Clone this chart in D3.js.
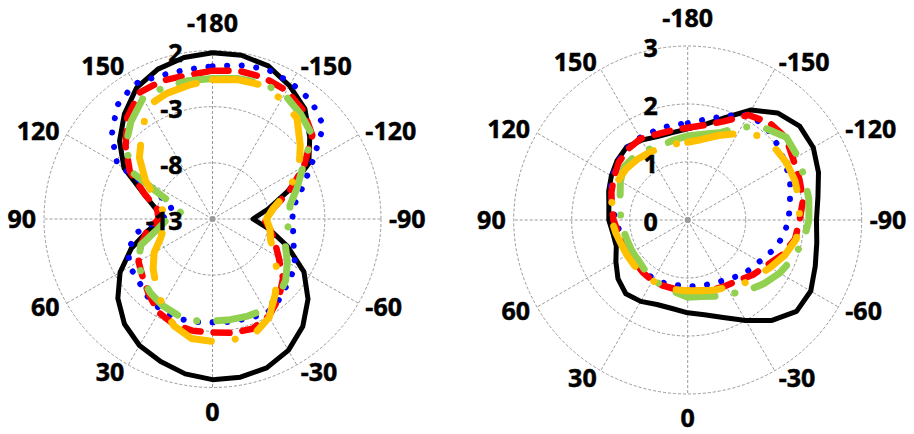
<!DOCTYPE html>
<html>
<head>
<meta charset="utf-8">
<script src="https://cdn.jsdelivr.net/npm/d3@7"></script>
<style>
  html, body { margin: 0; padding: 0; background: #fff; }
  svg text { font-family: "Open Sans", "Liberation Sans", sans-serif; font-weight: 700; font-size: 25px; fill: #000; stroke: #000; stroke-width: 0.5px; }
</style>
</head>
<body>
<svg id="chart" width="914" height="434"></svg>
<script>
// Angles in degrees, one value per 10 degrees starting at -180
const angles = d3.range(-180, 180, 10);
const angleTicks = [-180, -150, -120, -90, -60, -30, 0, 30, 60, 90, 120, 150];

// Left pattern (dB)
const leftTicks = [-13, -8, -3, 2];
const leftBlack  = [1.8, 1.8, 1.5, 0.7, -0.2, -1.7, -3.1, -5.9, -8.0, -9.4, -7.9, -5.9, -3.6, -1.9, -0.5, 0.5, 1.1, 1.3, 1.3, 1.0, 0.5, 0.0, -0.8, -2.0, -3.5, -5.3, -7.2, -8.6, -7.9, -6.5, -3.9, -2.2, -0.8, 0.5, 1.2, 1.6];
const leftBlue   = [0.6, 0.9, 1.2, 1.0, 0.7, -0.1, -2.7, -4.4, -5.6, -5.9, -5.7, -5.3, -4.5, -4.2, -3.7, -3.3, -3.6, -3.7, -3.8, -3.7, -3.6, -3.7, -4.0, -4.4, -4.5, -5.0, -6.2, -8.4, -9.4, -8.9, -3.2, -1.3, 0.2, 0.9, 0.6, 0.5];
const leftRed    = [0.2, 0.4, 0.4, 0.2, -0.4, -1.4, -3.6, -5.7, -7.5, -8.4, -7.8, -7.1, -6.2, -4.8, -3.8, -3.0, -2.6, -2.7, -2.9, -2.9, -3.0, -3.4, -4.2, -4.9, -5.4, -6.2, -7.1, -8.2, -8.0, -6.6, -4.5, -2.9, -1.2, 0.0, 0.1, 0.0];
const leftGreen  = [-0.5, -0.3, -0.1, -0.2, -0.8, -1.4, -3.7, -5.0, -6.0, -6.1, -6.3, -6.1, -5.3, -4.5, -3.9, -3.7, -3.8, -3.9, -3.9, -3.8, -3.9, -4.1, -4.4, -4.8, -5.4, -6.2, -8.1, -9.0, -10.2, -9.3, -4.8, -2.9, -1.7, -0.6, -0.5, -0.5];
const leftYellow = [-0.6, -0.4, -0.3, -0.7, -1.3, -2.8, -4.1, -5.9, -7.5, -8.2, -7.8, -7.5, -6.6, -5.5, -4.3, -2.9, -2.1, -2.1, -2.1, -2.2, -2.9, -4.1, -5.2, -6.1, -7.0, -8.1, -8.6, -8.7, -8.5, -7.5, -6.1, -4.5, -3.2, -1.4, -1.1, -0.9];

// Right pattern
const rightTicks = [0, 1, 2, 3];
const rightBlack  = [1.57, 1.67, 1.88, 2.19, 2.41, 2.52, 2.50, 2.40, 2.28, 2.22, 2.26, 2.34, 2.45, 2.45, 2.26, 2.00, 1.79, 1.66, 1.60, 1.55, 1.55, 1.62, 1.66, 1.57, 1.43, 1.31, 1.31, 1.36, 1.38, 1.45, 1.52, 1.59, 1.64, 1.59, 1.53, 1.53];
const rightBlue   = [1.67, 1.76, 1.91, 2.10, 2.10, 2.02, 1.95, 1.88, 1.79, 1.74, 1.67, 1.55, 1.43, 1.36, 1.28, 1.21, 1.17, 1.16, 1.14, 1.14, 1.16, 1.17, 1.17, 1.14, 1.14, 1.16, 1.19, 1.24, 1.33, 1.43, 1.50, 1.57, 1.62, 1.64, 1.64, 1.66];
const rightRed    = [1.59, 1.66, 1.81, 2.09, 2.19, 2.21, 2.10, 2.05, 2.02, 1.93, 1.88, 1.74, 1.57, 1.47, 1.36, 1.31, 1.28, 1.24, 1.22, 1.21, 1.21, 1.21, 1.19, 1.17, 1.17, 1.19, 1.22, 1.28, 1.33, 1.40, 1.47, 1.55, 1.60, 1.62, 1.57, 1.57];
const rightGreen  = [1.45, 1.50, 1.60, 1.86, 2.07, 2.22, 2.19, 2.14, 2.12, 2.09, 2.03, 1.93, 1.83, 1.71, 1.59, 1.47, 1.40, 1.34, 1.33, 1.26, 1.22, 1.19, 1.14, 1.10, 1.10, 1.10, 1.12, 1.16, 1.17, 1.24, 1.34, 1.43, 1.43, 1.40, 1.36, 1.40];
const rightYellow = [1.34, 1.41, 1.55, 1.72, 1.90, 1.95, 1.97, 1.97, 1.95, 1.93, 1.90, 1.78, 1.64, 1.53, 1.45, 1.34, 1.29, 1.24, 1.22, 1.22, 1.22, 1.21, 1.21, 1.21, 1.21, 1.22, 1.26, 1.31, 1.34, 1.36, 1.38, 1.38, 1.36, 1.34, 1.33, 1.33];

// Line styles for the five traces
const styles = [
  { color: "#000000", width: 5,   dash: null },
  { color: "#0000FF", width: 6,   dash: "0.1 14.5" },
  { color: "#FF0000", width: 6.5, dash: "16 13" },
  { color: "#92D050", width: 7,   dash: "40 20 0.1 20" },
  { color: "#FFC000", width: 7,   dash: "46 24 0.1 24" }
];

const svg = d3.select("#chart");

// 0 deg points down, +90 to the left, -90 to the right, -180 at the top
const angleScale = d3.scaleLinear().domain([-180, 180]).range([0, 2 * Math.PI]);

function drawPolar(cx, cy, radius, ticks, seriesList) {
  const rScale = d3.scaleLinear().domain([ticks[0], ticks[ticks.length - 1]]).range([0, radius]);
  const g = svg.append("g").attr("transform", `translate(${cx},${cy})`);
  const pt = (deg, r) => {
    const a = angleScale(deg);
    return [r * Math.sin(a), -r * Math.cos(a)];
  };

  // rings
  g.selectAll("circle.ring").data(ticks.slice(1)).join("circle")
    .attr("r", d => rScale(d))
    .attr("fill", "none").attr("stroke", "#9a9a9a").attr("stroke-width", 1)
    .attr("stroke-dasharray", "3 2");

  // spokes
  g.selectAll("line.spoke").data(angleTicks).join("line")
    .attr("x1", 0).attr("y1", 0)
    .attr("x2", d => pt(d, radius)[0]).attr("y2", d => pt(d, radius)[1])
    .attr("stroke", "#9a9a9a").attr("stroke-width", 1).attr("stroke-dasharray", "3 2");

  g.append("circle").attr("r", 3).attr("fill", "#9a9a9a");

  // traces
  const line = d3.lineRadial()
    .angle((d, i) => angleScale(angles[i]))
    .radius(d => rScale(d))
    .curve(d3.curveLinearClosed);

  seriesList.forEach((vals, i) => {
    const s = styles[i];
    g.append("path").datum(vals)
      .attr("d", line)
      .attr("fill", "none")
      .attr("stroke", s.color)
      .attr("stroke-width", s.width)
      .attr("stroke-linejoin", "round")
      .attr("stroke-linecap", "round")
      .attr("stroke-dasharray", s.dash);
  });

  // radial tick labels
  g.selectAll("text.rtick").data(ticks).join("text")
    .attr("x", -30)
    .attr("y", d => -rScale(d) + 2)
    .attr("dy", "0.36em")
    .attr("text-anchor", "end")
    .text(d => d);

  // angle labels
  g.selectAll("text.atick").data(angleTicks).join("text")
    .each(function (d) {
      const a = angleScale(d);
      const sx = Math.sin(a), sy = -Math.cos(a);
      const t = d3.select(this);
      if (Math.abs(sx) < 0.01) {
        const off = sy < 0 ? radius + 28 : radius + 24;
        t.attr("x", 0).attr("y", sy * off).attr("text-anchor", "middle");
      } else {
        const p = pt(d, radius + 8);
        t.attr("x", p[0]).attr("y", p[1]).attr("text-anchor", sx < 0 ? "end" : "start");
      }
      t.attr("dy", "0.36em").text(d);
    });
}

drawPolar(212.5, 219, 168.5, leftTicks, [leftBlack, leftBlue, leftRed, leftGreen, leftYellow]);
drawPolar(687.7, 220, 174, rightTicks, [rightBlack, rightBlue, rightRed, rightGreen, rightYellow]);
</script>
</body>
</html>
